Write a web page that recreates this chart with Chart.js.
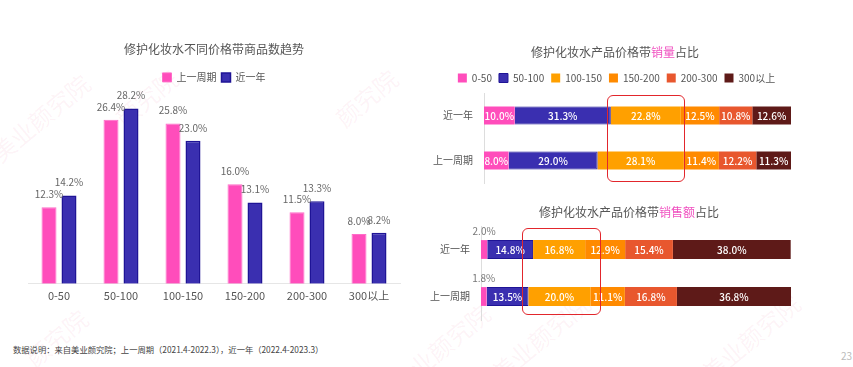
<!DOCTYPE html>
<html>
<head>
<meta charset="utf-8">
<script src="https://cdn.jsdelivr.net/npm/chart.js@4.4.0/dist/chart.umd.min.js"></script>
<style>
body{margin:0;background:#fff;width:853px;height:367px;overflow:hidden;position:relative;font-family:"Noto Sans CJK SC",sans-serif;}
canvas{position:absolute}
#countChart{left:0;top:30px}
#volumeChart{left:420px;top:30px}
#salesChart{left:420px;top:190px}
.box{position:absolute;border:1.5px solid #e2262c;border-radius:6px}
.wm{position:absolute;color:rgba(235,90,140,0.07);font-size:24px;transform:rotate(-40deg);white-space:nowrap}
#note{position:absolute;left:13px;top:343px;font-size:8.3px;color:#444}
#page{position:absolute;left:841px;top:348px;font-size:10px;color:#bbb}
</style>
</head>
<body>
<div class="wm" style="left:-20px;top:100px">美业颜究院</div>
<div class="wm" style="left:110px;top:80px">颜究院</div>
<div class="wm" style="left:330px;top:80px">颜究院</div>
<div class="wm" style="left:480px;top:320px">美业颜究院</div>
<div class="wm" style="left:690px;top:320px">美业颜究院</div>
<div class="wm" style="left:380px;top:330px">美业颜究院</div>
<div class="wm" style="left:20px;top:320px">颜究院</div>

<canvas id="countChart" width="420" height="280"></canvas>
<canvas id="volumeChart" width="433" height="170"></canvas>
<canvas id="salesChart" width="433" height="147"></canvas>

<div class="box" style="left:607px;top:95px;width:76px;height:85px"></div>
<div class="box" style="left:522px;top:228px;width:77px;height:85px"></div>

<div id="note">数据说明：来自美业颜究院；上一周期（2021.4-2022.3），近一年（2022.4-2023.3）</div>
<div id="page">23</div>

<script>
// price bands & periods
var priceBands = ["0-50","50-100","100-150","150-200","200-300","300以上"];
var periods = ["近一年","上一周期"];

// share of products per price band (%)
var countPrev = [12.3,26.4,25.8,16.0,11.5,8.0];
var countYear = [14.2,28.2,23.0,13.1,13.3,8.2];

// sales volume share per band (%)
var volumeYear = [10.0,31.3,22.8,12.5,10.8,12.6];
var volumePrev = [8.0,29.0,28.1,11.4,12.2,11.3];

// sales amount share per band (%)
var salesYear = [2.0,14.8,16.8,12.9,15.4,38.0];
var salesPrev = [1.8,13.5,20.0,11.1,16.8,36.8];

var bandColors = ["#ff4dbb","#3a2fb0","#ffa000","#ff8a00","#e8572e","#5e1a18"];
var bandBorders = ["#ff4dbb","#1f1496","#ffa000","#ff8a00","#e8572e","#5e1a18"];

var FONT = '"Noto Sans CJK SC", sans-serif';

// draws the % labels on the bars
var barLabels = {
	id:"barLabels",
	afterDatasetsDraw:function(chart,args,opts){
		var ctx = chart.ctx;
		ctx.save();
		ctx.textAlign = "center";
		ctx.textBaseline = "middle";
		chart.data.datasets.forEach(function(ds,i){
			var meta = chart.getDatasetMeta(i);
			meta.data.forEach(function(bar,j){
				var text = ds.data[j].toFixed(1) + "%";
				if (opts.mode == "top"){
					ctx.font = "10px " + FONT;
					ctx.fillStyle = "#666";
					ctx.fillText(text, bar.x, bar.y - 13);
				} else {
					var w = Math.abs(bar.x - bar.base);
					if (w < 12){
						ctx.font = "10px " + FONT;
						ctx.fillStyle = "#777";
						ctx.fillText(text, (bar.x + bar.base)/2, bar.y - bar.height/2 - 9);
					} else {
						ctx.font = "500 10px " + FONT;
						ctx.fillStyle = "#fff";
						ctx.fillText(text, (bar.x + bar.base)/2, bar.y + 0.5);
					}
				}
			});
		});
		ctx.restore();
	}
};

// title with a highlighted word
var richTitle = {
	id:"richTitle",
	afterDraw:function(chart,args,opts){
		if (!opts.parts) return;
		var ctx = chart.ctx;
		ctx.save();
		ctx.font = "12px " + FONT;
		ctx.textBaseline = "middle";
		var total = 0;
		opts.parts.forEach(function(p){ total += ctx.measureText(p[0]).width; });
		var x = opts.x - total/2;
		opts.parts.forEach(function(p){
			ctx.fillStyle = p[1];
			ctx.fillText(p[0], x, opts.y);
			x += ctx.measureText(p[0]).width;
		});
		ctx.restore();
	}
};

new Chart(document.getElementById("countChart"),{
	type:"bar",
	data:{
		labels:priceBands,
		datasets:[
			{label:"上一周期",data:countPrev,backgroundColor:"#ff4dbb",borderColor:"#ff6cc8",borderWidth:1},
			{label:"近一年",data:countYear,backgroundColor:"#3a2fb0",borderColor:"#1f1496",borderWidth:1.5}
		]
	},
	options:{
		responsive:false,
		animation:false,
		layout:{padding:{left:28,right:20,bottom:3,top:0}},
		categoryPercentage:0.645,
		barPercentage:0.75,
		scales:{
			x:{
				grid:{display:false,drawTicks:false},
				border:{display:true,color:"#e6e6e6"},
				ticks:{color:"#555",font:{size:11,family:FONT},padding:5}
			},
			y:{display:false,min:0,max:30.8}
		},
		plugins:{
			title:{display:true,text:"修护化妆水不同价格带商品数趋势",color:"#555",
				font:{size:12,weight:"normal",family:FONT},padding:{top:12,bottom:11}},
			legend:{labels:{boxWidth:9,boxHeight:9,padding:5,color:"#555",font:{size:10,family:FONT}}},
			tooltip:{enabled:false},
			barLabels:{mode:"top"}
		}
	},
	plugins:[barLabels]
});

function stackedOptions(titleParts,titleX,padTop,axisWidth,rightSpace,showLegend){
	var scales = {
		x:{display:false,stacked:true,min:0,max:100},
		y:{
			stacked:true,
			grid:{display:false,drawTicks:false},
			border:{display:true,color:"#ddd"},
			ticks:{color:"#555",font:{size:10,family:FONT},padding:11},
			afterFit:function(s){ s.width = axisWidth; }
		}
	};
	if (rightSpace){
		// empty right-hand axis so the legend centres like the original
		scales.yPad = {
			type:"category",position:"right",
			grid:{display:false,drawTicks:false},
			border:{display:false},
			ticks:{display:false},
			afterFit:function(s){ s.width = rightSpace; }
		};
	}
	return {
		indexAxis:"y",
		responsive:false,
		animation:false,
		layout:{padding:{left:4,right:62 - rightSpace,top:padTop,bottom:0}},
		categoryPercentage:1,
		barPercentage:0.4,
		scales:scales,
		plugins:{
			legend:{display:showLegend,labels:{boxWidth:9,boxHeight:9,padding:7,color:"#555",font:{size:10,family:FONT}}},
			tooltip:{enabled:false},
			richTitle:{parts:titleParts,x:titleX,y:22},
			barLabels:{mode:"inside"}
		}
	};
}

function bandDatasets(a,b){
	return priceBands.map(function(band,i){
		return {label:band,data:[a[i],b[i]],backgroundColor:bandColors[i],
			borderColor:bandBorders[i],borderWidth:i == 1 ? 1 : 0};
	});
}

new Chart(document.getElementById("volumeChart"),{
	type:"bar",
	data:{labels:periods,datasets:bandDatasets(volumeYear,volumePrev)},
	options:stackedOptions([["修护化妆水产品价格带","#555"],["销量","#f050c0"],["占比","#555"]],195,36,60,18,true),
	plugins:[barLabels,richTitle]
});

new Chart(document.getElementById("salesChart"),{
	type:"bar",
	data:{labels:periods,datasets:bandDatasets(salesYear,salesPrev)},
	options:stackedOptions([["修护化妆水产品价格带","#555"],["销售额","#f050c0"],["占比","#555"]],209,36,57,0,false),
	plugins:[barLabels,richTitle]
});
</script>
</body>
</html>
